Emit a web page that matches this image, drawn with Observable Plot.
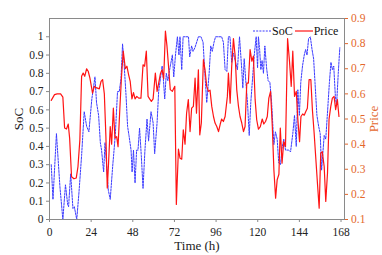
<!DOCTYPE html>
<html><head><meta charset="utf-8">
<script src="https://cdn.jsdelivr.net/npm/d3@7"></script>
<script src="https://cdn.jsdelivr.net/npm/@observablehq/plot@0.6"></script>
<style>
body{margin:0;background:#fff}
#wrap{position:relative;width:382px;height:255px}
#wrap svg text{font-family:"Liberation Serif","DejaVu Serif",serif}
#legend{position:absolute;left:253px;top:24px;font-family:"Liberation Serif","DejaVu Serif",serif;font-size:12px;color:#111;display:flex;align-items:center;line-height:14px}
#legend svg{display:block}
</style></head><body><div id="wrap"><div id="legend"></div></div>
<script>
const socTime=[1,2,4,6,7.7,9.2,10.5,11,12.2,13.5,14.3,15.7,17,18.5,20,21.4,22.7,24.4,26.2,27.1,28.3,29.3,30,31.2,32,33.9,35,36.4,37.9,39.2,40.2,41.2,42.1,43,44.1,45,45.8,47,47.6,48.4,49.3,50.2,51,51.9,52.9,53.9,55,56.2,57.1,58.5,59.7,60.6,62,62.9,63.9,64.9,65.6,66.4,67.3,68.2,69.6,70.8,71.6,72.6,73.7,74.6,75.2,76.2,77,80.1,80.8,81.9,82.7,83.8,85.8,87.3,88.5,89.6,90.6,92,92.9,93.8,94.8,95.7,99.2,100.2,101.2,102.2,103.1,104,105,106,107,108.3,109.5,110.8,111.4,112.2,113.1,114.1,115.1,116,117,118,119.1,119.9,120.4,121.1,121.8,122.5,123.3,124.1,125.1,126,127,128,129.3,130.2,131.2,132.1,133.1,134,135,136,137.9,138.9,140.2,141.2,142.2,143.1,144,144.8,145.8,146.8,147.6,148.4,149.3,150.3,151.3,152.2,153,154.1,155.1,156,156.8,157.5,158.3,159.2,160.3,161.3,162.2,163,163.8,164.7,165.4,166.4,167.3];
const socValue=[0.30,0.11,0.47,0.18,0.0,0.19,0.08,0.07,0.25,0.06,0.07,0.0,0.15,0.35,0.59,0.51,0.48,0.66,0.78,0.64,0.57,0.42,0.38,0.26,0.42,0.16,0.11,0.29,0.46,0.70,0.70,0.77,0.96,0.85,0.68,0.51,0.46,0.38,0.26,0.38,0.20,0.38,0.38,0.50,0.35,0.17,0.38,0.55,0.43,0.59,0.53,0.36,0.53,0.70,0.77,0.84,0.77,0.66,0.80,0.76,0.84,0.90,0.78,0.90,1.0,0.90,1.0,0.82,1.0,1.0,0.89,0.95,0.92,0.94,1.0,1.0,0.97,0.79,0.64,0.80,0.95,0.92,0.97,1.0,1.0,0.97,0.82,0.81,1.0,1.0,0.86,0.91,0.87,0.82,1.0,0.82,0.72,0.88,0.76,0.64,0.46,0.64,0.77,0.90,1.0,0.83,1.0,0.93,0.82,0.87,0.80,0.95,0.83,0.76,0.75,0.64,0.41,0.48,0.44,0.31,0.30,0.39,0.44,0.38,0.38,0.37,0.47,0.57,0.40,0.71,0.57,0.75,0.84,0.90,0.93,0.90,0.99,1.0,0.93,0.88,0.75,0.57,0.51,0.47,0.27,0.36,0.46,0.44,0.60,0.75,0.86,0.82,0.84,0.68,0.62,0.80,0.94];
const priceTime=[1,2.9,4.4,6.4,7.7,8.7,9.8,10.8,11.6,12.7,14.1,15.4,16.4,17.5,18.5,19.4,20.3,21.4,22.3,23.3,24.8,25.8,26.7,27.7,28.7,29.7,30.6,31.6,32.5,33.3,34,35,35.8,36.8,37.7,38.7,39.5,40.6,41.5,42.5,43.7,44.6,45.6,46.5,47.5,48.4,49.3,50.3,51.4,52.7,53.9,54.8,55.8,56.8,57.7,58.7,59.7,61,62,63.1,63.9,64.9,65.8,66.8,67.7,68.7,69.6,70.8,72.2,73.1,74.3,75.2,76.2,77.1,78.1,79,80,81,81.9,82.9,83.9,84.7,85.8,86.6,87.5,88.7,89.6,90.6,91.6,92.5,93.5,94.5,95.4,96.4,97.4,98.4,99.2,100.2,101.2,102.5,103.1,104.1,105,106,107,107.9,108.9,109.8,110.8,111.8,112.7,113.7,114.6,115.6,116.6,117.5,118.5,119.4,120.4,121.5,122.6,123.5,124.5,125.5,126.4,127.4,128.4,129.3,130.3,131.2,132.2,133,134,135,136,137.2,138.3,139.3,140.2,141.2,142.2,143.1,144.1,144.9,145.9,146.8,147.7,148.6,149.6,150.6,151.5,152.5,153.4,154.4,155.4,156.3,157.2,158.3,159.2,160.2,161.1,162.1,163,164,164.9,165.9,166.8];
const priceValue=[0.574,0.597,0.60,0.60,0.587,0.464,0.46,0.48,0.424,0.27,0.262,0.265,0.31,0.417,0.67,0.683,0.67,0.70,0.69,0.663,0.603,0.63,0.625,0.623,0.62,0.65,0.657,0.60,0.43,0.225,0.32,0.47,0.40,0.543,0.424,0.43,0.39,0.55,0.67,0.77,0.70,0.71,0.676,0.65,0.58,0.605,0.58,0.59,0.583,0.583,0.716,0.71,0.77,0.59,0.58,0.57,0.58,0.683,0.61,0.65,0.68,0.696,0.66,0.85,0.79,0.70,0.617,0.61,0.63,0.16,0.38,0.344,0.34,0.457,0.40,0.523,0.577,0.45,0.543,0.55,0.663,0.523,0.696,0.437,0.484,0.736,0.696,0.63,0.61,0.615,0.55,0.51,0.484,0.47,0.45,0.48,0.50,0.49,0.51,0.59,0.683,0.563,0.71,0.82,0.75,0.617,0.55,0.51,0.484,0.45,0.47,0.643,0.643,0.776,0.73,0.75,0.577,0.497,0.46,0.47,0.50,0.48,0.49,0.51,0.583,0.61,0.47,0.298,0.185,0.258,0.28,0.464,0.324,0.41,0.39,0.82,0.73,0.63,0.77,0.59,0.61,0.50,0.41,0.51,0.52,0.515,0.53,0.543,0.657,0.657,0.537,0.444,0.35,0.245,0.145,0.364,0.37,0.31,0.172,0.284,0.50,0.55,0.583,0.59,0.537,0.577,0.51];
const timeTicks=[0,24,48,72,96,120,144,168];
const socTicks=[0,0.1,0.2,0.3,0.4,0.5,0.6,0.7,0.8,0.9,1];
const priceTicks=[0.1,0.2,0.3,0.4,0.5,0.6,0.7,0.8,0.9];
const socColor="#3b3bff", priceColor="#ff1414", priceAxisColor="#e4672c";
const priceMin=0.1, priceMax=0.9, socTop=1.1;
const toY=p=>(p-priceMin)/(priceMax-priceMin)*socTop;
const fromY=y=>+(y/socTop*(priceMax-priceMin)+priceMin).toFixed(1);
const soc=socTime.map((t,i)=>({t,v:socValue[i]}));
const price=priceTime.map((t,i)=>({t,v:toY(priceValue[i])}));
const serif="'Liberation Serif','DejaVu Serif',serif";
const plot=Plot.plot({
  width:382,height:255,marginLeft:49,marginRight:38,marginTop:18,marginBottom:36,
  style:{fontFamily:serif,fontSize:"11.5px",color:"#222",background:"#fff"},
  x:{domain:[0,170]},
  y:{domain:[0,socTop]},
  marks:[
    Plot.line(soc,{x:"t",y:"v",stroke:socColor,strokeWidth:1,strokeDasharray:"2,1.2"}),
    Plot.line(price,{x:"t",y:"v",stroke:priceColor,strokeWidth:1.2}),
    Plot.frame({stroke:"#8a8a8a"}),
    Plot.axisX(timeTicks,{tickSize:3,tickPadding:5,tickFormat:d=>String(d),label:null,stroke:"#8a8a8a",color:"#222"}),
    Plot.axisY(socTicks,{anchor:"left",tickSize:3,tickPadding:3,tickFormat:d=>String(d),label:null,stroke:"#8a8a8a"}),
    Plot.axisY(priceTicks.map(toY),{anchor:"right",tickSize:3,tickPadding:3.5,tickFormat:d=>String(fromY(d)),label:null,color:priceAxisColor}),
    Plot.text(["Time (h)"],{text:d=>d,frameAnchor:"bottom",lineAnchor:"middle",textAnchor:"middle",dy:26,fontSize:13,fill:"#222"}),
    Plot.text(["SoC"],{text:d=>d,frameAnchor:"left",lineAnchor:"middle",textAnchor:"middle",dx:-31,rotate:-90,fontSize:13,fill:"#222"}),
    Plot.text(["Price"],{text:d=>d,frameAnchor:"right",lineAnchor:"middle",textAnchor:"middle",dx:29,rotate:-90,fontSize:13,fill:priceAxisColor})
  ]
});
const wrap=document.getElementById("wrap");
wrap.insertBefore(plot,wrap.firstChild);
const lg=document.getElementById("legend");
lg.innerHTML=`<svg width="18" height="8"><line x1="0" y1="4" x2="18" y2="4" stroke="${socColor}" stroke-width="1" stroke-dasharray="2,1.2"/></svg><span style="margin:0 2px 0 1px">SoC</span><svg width="18" height="8"><line x1="0" y1="4" x2="18" y2="4" stroke="${priceColor}" stroke-width="1.2"/></svg><span style="margin-left:1px">Price</span>`;
</script></body></html>
